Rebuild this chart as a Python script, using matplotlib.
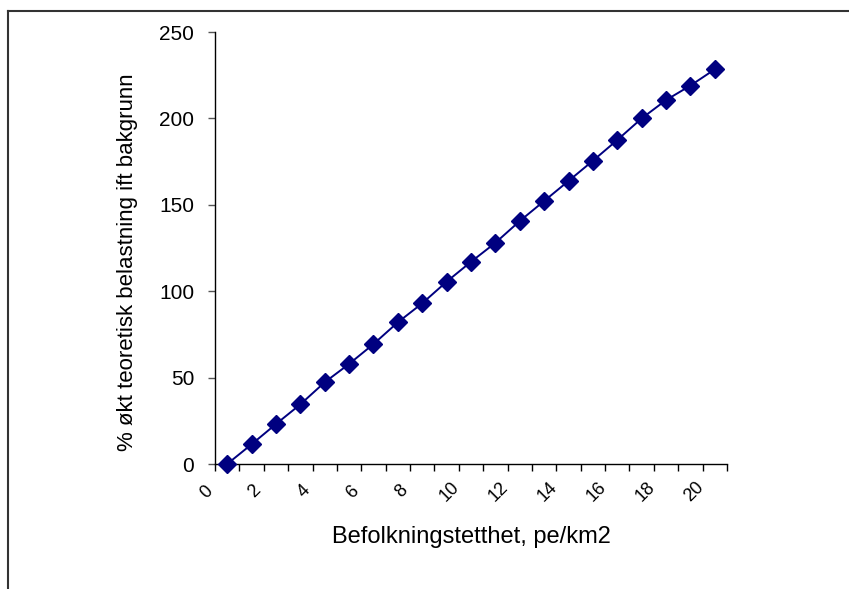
import matplotlib
matplotlib.use("Agg")
import matplotlib.pyplot as plt
from matplotlib.lines import Line2D
from matplotlib.transforms import ScaledTranslation
import numpy as np

plt.rcParams['font.family'] = ['Liberation Sans', 'DejaVu Sans']

# data
density = list(range(0, 21))
increase = [0, 11.4, 23.1, 34.5, 47.3, 57.9, 69.4, 82, 93, 105.5, 117, 128,
            140.6, 152.2, 163.8, 175.5, 187.5, 200, 210.6, 219, 228.4]
x_labels = [str(v) for v in density[::2]]
y_ticks = [0, 50, 100, 150, 200, 250]

W, H = 849, 589
fig = plt.figure(figsize=(W / 100, H / 100), dpi=100)
ax = fig.add_axes([215 / W, (H - 464) / H, (727 - 215) / W, (464 - 32) / H])

pos = np.arange(len(density))
ax.plot(pos, increase, color='#000080', linewidth=1.4, marker='D',
        markersize=9.5, markerfacecolor='#000080', markeredgecolor='#000080',
        zorder=3, clip_on=False)

ax.set_yticks(y_ticks)
ax.set_yticklabels([str(v) for v in y_ticks], fontsize=15)

# category boundaries as tick marks, labels on every other category
ax.set_xticks(np.arange(len(density) + 1) - 0.5)
ax.set_xticklabels([])
ax.set_xticks(pos[::2], minor=True)
ax.set_xticklabels(x_labels, minor=True, rotation=45, ha='center', va='center',
                   rotation_mode='anchor', fontsize=13)
ax.tick_params(axis='x', which='minor', length=0, pad=20)
ax.tick_params(axis='x', which='major', length=5, width=1, color='black')
ax.tick_params(axis='y', length=5, width=1, color='#555555', pad=10)
ax.set_xlim(-0.5, len(density) - 0.5)
ax.set_ylim(0, 250)

# Excel draws the slanted labels a bit left of their category
shift = ScaledTranslation(-21 / 100, 0, fig.dpi_scale_trans)
for lab in ax.get_xticklabels(minor=True):
    lab.set_transform(lab.get_transform() + shift)

for side in ['top', 'right']:
    ax.spines[side].set_visible(False)
for side in ['left', 'bottom']:
    ax.spines[side].set_linewidth(1)

ax.set_xlabel("Befolkningstetthet, pe/km2", fontsize=17, va='center')
ax.xaxis.set_label_coords(0.5, -0.169)
ax.set_ylabel("% økt teoretisk belastning ift bakgrunn", fontsize=16, va='center')
ax.yaxis.set_label_coords(-0.17, 0.468)

# chart area border (top and left edges visible)
fig.add_artist(Line2D([7.5 / W, 1.0], [1 - 10.5 / H, 1 - 10.5 / H],
                      transform=fig.transFigure, color='#333333', linewidth=1.5))
fig.add_artist(Line2D([7.5 / W, 7.5 / W], [0, 1 - 10.5 / H],
                      transform=fig.transFigure, color='#333333', linewidth=1.5))

fig.savefig("out.png", dpi=100)
